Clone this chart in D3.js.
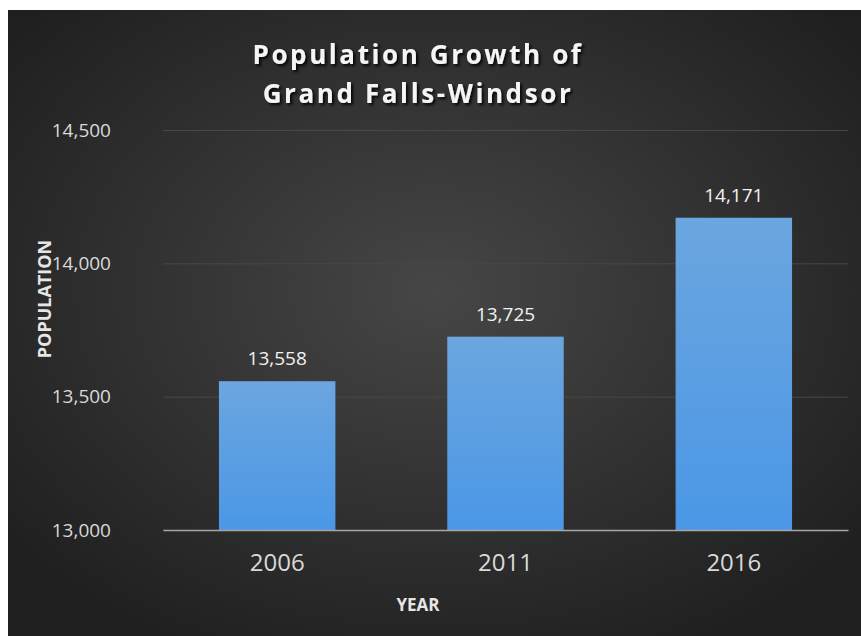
<!DOCTYPE html>
<html><head><meta charset="utf-8">
<script src="https://cdn.jsdelivr.net/npm/d3@7"></script>
<style>body{margin:0;background:#fff;}svg{display:block;}</style>
</head><body>
<script>
const categories = ["2006", "2011", "2016"];
const populations = [13558, 13725, 14171];
const yTicks = [13000, 13500, 14000, 14500];
const titleLines = ["Population Growth of", "Grand Falls-Windsor"];

const W = 861, H = 636;
const svg = d3.select("body").append("svg").attr("width", W).attr("height", H);
const defs = svg.append("defs");
const rg = defs.append("radialGradient").attr("id","bg").attr("cx","50%").attr("cy","45%").attr("r","65%");
rg.append("stop").attr("offset","0%").attr("stop-color","#464646");
rg.append("stop").attr("offset","100%").attr("stop-color","#1f1f1f");
const bg = defs.append("linearGradient").attr("id","bar").attr("x1",0).attr("y1",0).attr("x2",0).attr("y2",1);
bg.append("stop").attr("offset","0%").attr("stop-color","#6ba6df");
bg.append("stop").attr("offset","100%").attr("stop-color","#4b97e6");
const f = defs.append("filter").attr("id","shadow").attr("x","-10%").attr("y","-30%").attr("width","120%").attr("height","160%");
f.append("feDropShadow").attr("dx",2).attr("dy",2).attr("stdDeviation",1.5).attr("flood-color","#000").attr("flood-opacity",0.9);

svg.append("rect").attr("x",8).attr("y",10).attr("width",W-8).attr("height",H-10).attr("fill","url(#bg)");

const m = {left:163, right:848, top:130, bottom:530};
const x = d3.scaleBand().domain(categories).range([m.left, m.right]).paddingInner(0.49).paddingOuter(0.245);
const y = d3.scaleLinear().domain([13000, 14500]).range([m.bottom, m.top]);

const font = "'Open Sans', sans-serif";

// gridlines
const yAxis = d3.axisLeft(y).tickValues(yTicks).tickSize(-(m.right-m.left)).tickFormat(d3.format(","));
const gy = svg.append("g").attr("transform",`translate(${m.left},0)`).call(yAxis);
gy.select(".domain").remove();
gy.selectAll(".tick line").attr("stroke","#484848").attr("stroke-width",1);
gy.selectAll(".tick text").attr("fill","#d9d9d9").attr("font-size",19).attr("font-family",font).attr("x",-52);

// bars
svg.selectAll("rect.bar").data(populations).join("rect").attr("class","bar")
  .attr("x",(d,i)=>x(categories[i])).attr("width",x.bandwidth())
  .attr("y",d=>y(d)).attr("height",d=>y(13000)-y(d))
  .attr("fill","url(#bar)");

// baseline
const xAxis = d3.axisBottom(x).tickSize(0).tickPadding(24);
const gx = svg.append("g").attr("transform",`translate(0,${m.bottom})`).call(xAxis);
gx.select(".domain").attr("stroke","#a6a6a6").attr("stroke-width",1.5);
gx.selectAll(".tick text").attr("fill","#d9d9d9").attr("font-size",24).attr("font-family",font);

// data labels
svg.selectAll("text.lbl").data(populations).join("text").attr("class","lbl")
  .attr("x",(d,i)=>x(categories[i])+x.bandwidth()/2).attr("y",d=>y(d)-16)
  .attr("text-anchor","middle").attr("fill","#f2f2f2").attr("font-size",19).attr("font-family",font)
  .text(d=>d3.format(",")(d));

// title
svg.append("text").attr("x",418).attr("text-anchor","middle").attr("fill","#f5f5f5")
  .attr("font-family",font).attr("font-weight","bold").attr("font-size",26).attr("letter-spacing",2.6)
  .attr("filter","url(#shadow)")
  .selectAll("tspan").data(titleLines).join("tspan").attr("x",418).attr("y",(d,i)=>64+i*39).text(d=>d);

// axis titles
svg.append("text").attr("x",418).attr("y",611).attr("text-anchor","middle").attr("fill","#e6e6e6")
  .attr("font-family",font).attr("font-weight","bold").attr("font-size",17).text("YEAR");
svg.append("text").attr("transform","translate(51,299) rotate(-90)").attr("text-anchor","middle").attr("fill","#e6e6e6")
  .attr("font-family",font).attr("font-weight","bold").attr("font-size",18).text("POPULATION");
</script>
</body></html>
